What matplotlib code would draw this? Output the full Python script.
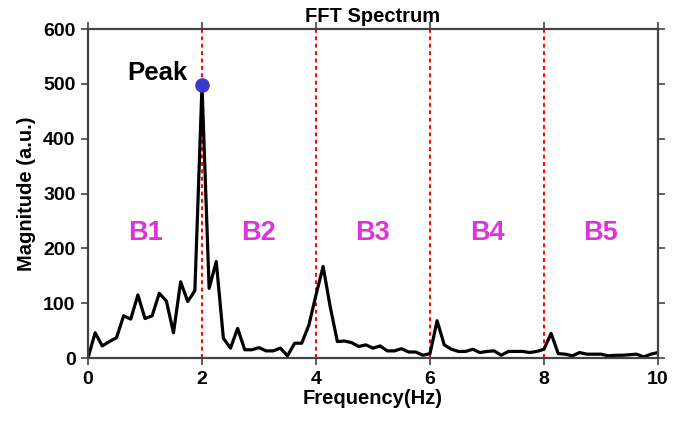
import numpy as np
import matplotlib
matplotlib.use("Agg")
import matplotlib.pyplot as plt

plt.rcParams['font.family'] = ['Liberation Sans', 'DejaVu Sans']
plt.rcParams['font.weight'] = 'bold'

# FFT magnitude, one value per 0.125 Hz bin from 0 to 10 Hz
magnitude = [0, 46, 22, 30, 37, 77, 71, 115, 72, 77, 118, 104, 46, 139, 103, 123,
             497, 127, 176, 36, 18, 54, 15, 15, 19, 13, 13, 18, 4, 27, 27, 60,
             115, 167, 93, 30, 31, 28, 21, 24, 18, 22, 13, 13, 17, 11, 11, 5,
             8, 68, 24, 16, 12, 12, 16, 10, 12, 13, 5, 12, 12, 12, 10, 12,
             16, 45, 8, 7, 4, 10, 7, 7, 7, 4, 5, 5, 6, 7, 2, 7, 10]
bin_width = 0.125
freq = np.arange(len(magnitude)) * bin_width

band_edges = [2, 4, 6, 8]
band_labels = ['B1', 'B2', 'B3', 'B4', 'B5']
band_centers = [1, 3, 5, 7, 9]

peak_idx = int(np.argmax(magnitude))

fig = plt.figure(figsize=(6.99, 4.26), dpi=100)
ax = fig.add_axes([0.1259, 0.1596, 0.8154, 0.7723])

for x in band_edges:
    ax.axvline(x, color='red', lw=1.4, ls=(0, (2, 1.8)), zorder=1)

ax.plot(freq, magnitude, color='black', lw=2.3, zorder=2)
ax.plot(freq[peak_idx], magnitude[peak_idx], 'o', color='#3a3acc', ms=9.5, zorder=3)
ax.text(1.74, 520, 'Peak', fontsize=18.5, fontweight='bold', ha='right', va='center')

for x, lab in zip(band_centers, band_labels):
    ax.text(x, 228, lab, fontsize=19.5, fontweight='bold', color='#dd33dd',
            ha='center', va='center')

ax.set_xlim(0, 10)
ax.set_ylim(0, 600)
ax.set_xticks([0, 2, 4, 6, 8, 10])
ax.set_yticks(range(0, 601, 100))
ax.tick_params(direction='out', length=5, width=1.2, color='#444444',
               top=True, right=True, labelsize=14, pad=4)
for s in ax.spines.values():
    s.set_color('#444444')
    s.set_linewidth(1.6)

ax.set_title('FFT Spectrum', fontsize=14.5, fontweight='bold', pad=5)
ax.set_xlabel('Frequency(Hz)', fontsize=14.5, fontweight='bold', labelpad=1)
ax.set_ylabel('Magnitude (a.u.)', fontsize=14.5, fontweight='bold', labelpad=5)

plt.savefig('out.png', dpi=100)
